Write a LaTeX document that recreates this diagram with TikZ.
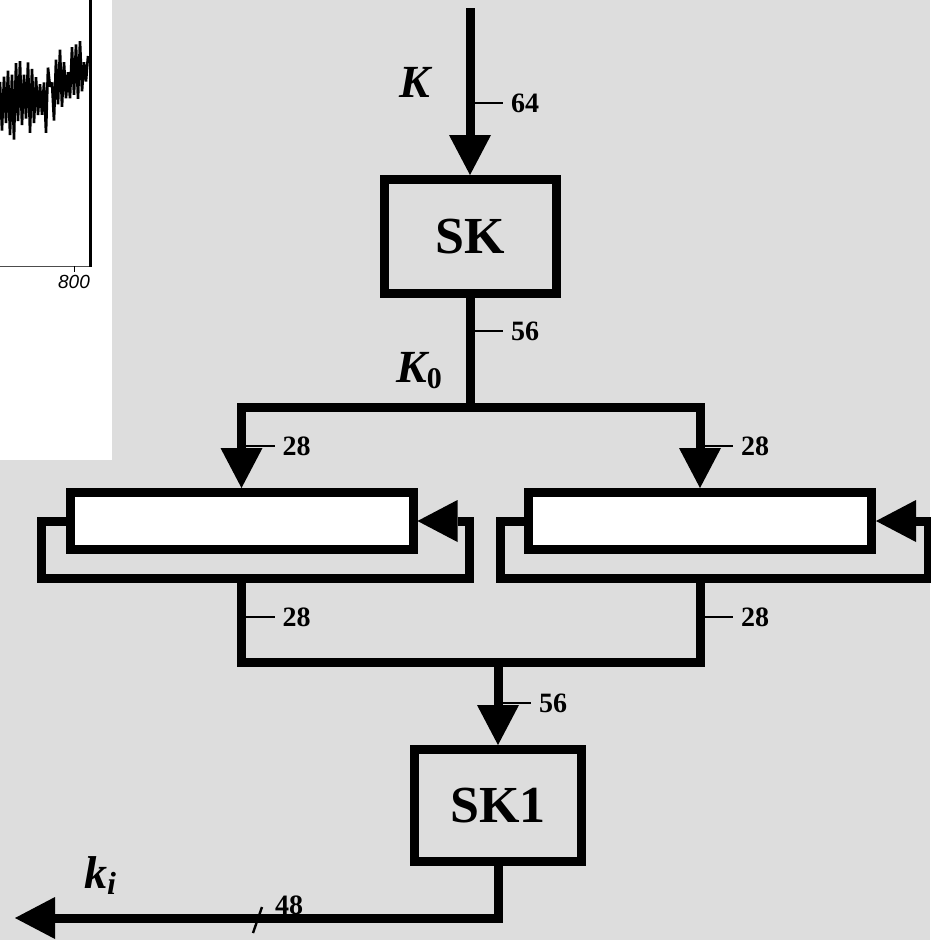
\documentclass[tikz,border=0pt]{standalone}
\usepackage{fontspec}
\setmainfont{Liberation Serif}
\newfontfamily\axisfont{Liberation Sans}
\usetikzlibrary{arrows.meta,positioning}
\definecolor{panel}{gray}{0.865}

\begin{document}
\begin{tikzpicture}[x=1pt,y=-1pt,
    wire/.style={line width=9pt},
    feed/.style={wire,-{Triangle[length=40pt,width=42pt,line width=0pt]}},
    blk/.style={draw,line width=9pt,inner sep=0pt,font=\bfseries\fontsize{52}{52}\selectfont},
    shreg/.style={draw,fill=white,line width=9pt,inner sep=0pt,minimum width=343pt,minimum height=57pt},
    bus/.style={line width=2.4pt},
    nbits/.style={font=\bfseries\fontsize{28}{28}\selectfont,anchor=west,inner sep=7pt},
    sym/.style={font=\bfseries\itshape\fontsize{46}{46}\selectfont,inner sep=0pt}]
  \useasboundingbox[fill=panel] (0,0) rectangle (930,940);

  % scrap of a trace in the corner
  \fill[white] (0,0) rectangle (112,460);
  \pgfmathsetseed{7}
  \draw[line width=2.6pt,line join=bevel] plot[domain=0:88,samples=45]
    (\x,{100+40*(2*mod(round(\x/2),2)-1)*(0.35+0.65*rnd)-42*(\x>46)*rnd});
  \draw[black!70,line width=0.8pt] (0,266) -- (92,266);
  \draw[line width=3pt] (90,0) -- (90,267);
  \draw (74,266) -- (74,272) node[below=0pt,font=\axisfont\itshape\fontsize{19}{19}\selectfont] {800};

  % blocks
  \coordinate (kin) at (470,8);
  \node[blk,minimum width=172pt,minimum height=114pt] (sk) at (470,236.5) {SK};
  \coordinate (split) at (470,407);
  \node[shreg] (regl) at (241.5,521) {};
  \node[shreg] (regr) at (700,521) {};
  \coordinate (merge) at (498,662);
  \node[blk,minimum width=167pt,minimum height=112pt] (sk1) at (498,805.5) {SK1};
  \coordinate (kout) at (15,918);

  % wiring
  \draw[feed] (kin) -- (sk.north);
  \draw[wire] (sk.south) -- (split);
  \draw[feed] (split) -| (regl.north);
  \draw[feed] (split) -| (regr.north);
  \foreach \r in {regl,regr} {
    \draw[feed] (\r.west) -- ++(-24,0) -- ++(0,57) -| ([xshift=52pt]\r.east) -- (\r.east);
  }
  \draw[wire] ([yshift=-24pt]regl.south) |- (merge) -| ([yshift=-24pt]regr.south);
  \draw[feed] (merge) -- (sk1.north);
  \draw[feed] (sk1.south) |- (kout);

  % bus widths
  \draw[bus] (470,103) -- ++(33,0) node[nbits] {64};
  \draw[bus] (470,331) -- ++(33,0) node[nbits] {56};
  \foreach \x in {241.5,700} {
    \draw[bus] (\x,446) -- ++(33,0) node[nbits] {28};
    \draw[bus] (\x,617) -- ++(33,0) node[nbits] {28};
  }
  \draw[bus] (498,703) -- ++(33,0) node[nbits] {56};
  \draw[bus] (253,933) -- (262,907);
  \node[nbits,inner sep=0pt] (w48) at (275,905) {48};

  % signal names
  \node[sym] (klab) at (415,82) {K};
  \node[sym] (k0lab) at (419,371) {K\raisebox{-6pt}{\upshape\fontsize{30}{30}\selectfont 0}};
  \node[sym] (kilab) at (100,876) {k\raisebox{-6pt}{\fontsize{32}{32}\selectfont i}};
\end{tikzpicture}
\end{document}
